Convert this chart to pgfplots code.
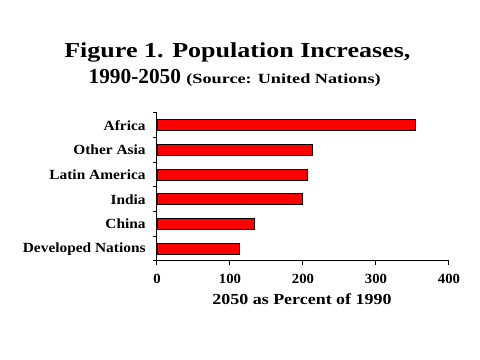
\documentclass[border=0pt]{standalone}
\usepackage{fontspec}
\setmainfont{Liberation Serif}
\usepackage{graphicx}
\usepackage{pgfplots}
\pgfplotsset{compat=1.18}
\newcommand{\wx}[2]{\scalebox{#1}[1]{#2}}
\begin{document}
\begin{tikzpicture}
\path[use as bounding box] (0,0) rectangle (360pt,270pt);
\begin{axis}[
  at={(117.75pt,74.25pt)}, anchor=south west,
  scale only axis, width=219pt, height=111pt,
  xbar, bar width=0.45,
  xmin=0, xmax=400,
  ymin=-0.5, ymax=5.5,
  axis lines*=left,
  axis line style={line width=0.75pt},
  every tick/.style={black, line width=0.75pt},
  tick align=outside,
  xtick={0,100,200,300,400},
  xticklabels={\wx{1.05}{0},\wx{1.05}{100},\wx{1.05}{200},\wx{1.05}{300},\wx{1.05}{400}},
  major tick length=3pt,
  ytick={0,1,2,3,4,5},
  yticklabels={\wx{1.1}{Developed Nations},\wx{1.1}{China},\wx{1.1}{India},\wx{1.1}{Latin America},\wx{1.1}{Other Asia},\wx{1.1}{Africa}},
  minor ytick={-0.5,0.5,1.5,2.5,3.5,4.5,5.5},
  minor tick length=3pt,
  y tick style={draw=none},
  minor y tick style={draw=black, line width=0.75pt},
  ticklabel style={font=\fontsize{10.5pt}{12pt}\selectfont\bfseries},
  xticklabel style={yshift=-3pt},
  yticklabel style={xshift=-2pt},
  clip=false,
]
\addplot[draw=black, line width=0.6pt, fill={rgb,255:red,255;green,0;blue,0}] coordinates {
  (112.5,0) (134,1) (199,2) (206,3) (213,4) (354,5)
};
\end{axis}
\node[anchor=base, font=\fontsize{16pt}{19pt}\selectfont\bfseries] at (178pt,226.5pt) {\wx{1.22}{Figure 1. Population Increases,}};
\node[anchor=base, font=\fontsize{16pt}{19pt}\selectfont\bfseries] at (176pt,207pt) {1990-2050\hspace{4pt}{\fontsize{10.5pt}{12pt}\selectfont\wx{1.3}{(Source: United Nations)}}};
\node[anchor=base, font=\fontsize{11.5pt}{14pt}\selectfont\bfseries] at (226.5pt,41.25pt) {\wx{1.17}{2050 as Percent of 1990}};
\end{tikzpicture}
\end{document}
